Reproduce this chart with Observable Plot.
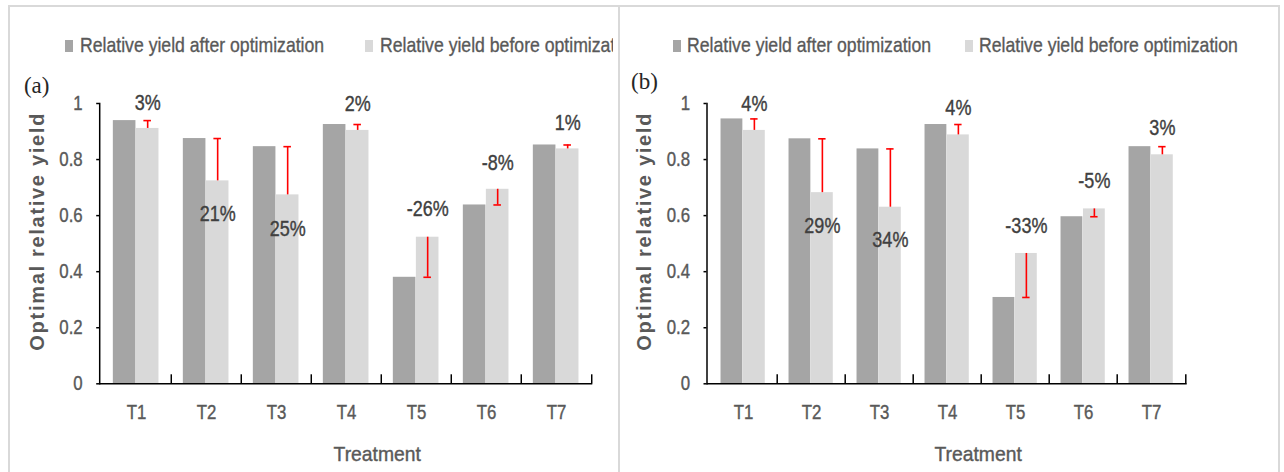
<!DOCTYPE html>
<html>
<head>
<meta charset="utf-8">
<script src="https://cdn.jsdelivr.net/npm/d3@7"></script>
<script src="https://cdn.jsdelivr.net/npm/@observablehq/plot@0.6"></script>
<style>
  html, body { margin: 0; padding: 0; background: #fff; }
  #wrap { position: relative; width: 1284px; height: 472px; overflow: hidden; background: #fff;
          font-family: "Liberation Sans", Arial, sans-serif; }
  .box { position: absolute; border-color: #d9d9d9; border-style: solid; box-sizing: border-box; }
  .abs { position: absolute; }
  .sw { position: absolute; width: 8px; height: 12px; }
  .lt { position: absolute; font-size: 21px; line-height: 21px; color: #595959; white-space: nowrap;
        -webkit-text-stroke: 0.35px #595959;
        transform: scaleX(0.84); transform-origin: left center; }
</style>
</head>
<body>
<div id="wrap">
  <div class="box" style="left:8px;top:5px;width:620px;height:480px;border-width:2px 0 0 2px;"></div>
  <div class="box" style="left:618px;top:5px;width:662px;height:480px;border-width:2px 2px 0 2px;"></div>
  <div id="legA" class="abs" style="left:0;top:0;width:613px;height:100px;overflow:hidden;"></div>
  <div id="legB" class="abs" style="left:0;top:0;width:1284px;height:100px;overflow:hidden;"></div>
  <div id="plotA" class="abs" style="left:0;top:0;"></div>
  <div id="plotB" class="abs" style="left:619px;top:0;"></div>
</div>
<script>
// ---------- data ----------
const treatments = ["T1", "T2", "T3", "T4", "T5", "T6", "T7"];
const seriesNames = ["Relative yield after optimization", "Relative yield before optimization"];
const seriesColors = ["#a5a5a5", "#d9d9d9"];
const yTicks = [0, 0.2, 0.4, 0.6, 0.8, 1];

// panel (a)
const afterA  = [0.939, 0.875, 0.846, 0.925, 0.380, 0.638, 0.852];
const beforeA = [0.911, 0.724, 0.674, 0.904, 0.523, 0.694, 0.838];
const pctA    = ["3%", "21%", "25%", "2%", "-26%", "-8%", "1%"];
const pctYA   = [1.004, 0.607, 0.554, 1.0, 0.625, 0.789, 0.932];

// panel (b)
const afterB  = [0.945, 0.874, 0.838, 0.925, 0.308, 0.596, 0.846];
const beforeB = [0.904, 0.682, 0.630, 0.888, 0.465, 0.624, 0.817];
const pctB    = ["4%", "29%", "34%", "4%", "-33%", "-5%", "3%"];
const pctYB   = [1.0, 0.564, 0.514, 0.986, 0.564, 0.725, 0.914];

const yTitle = "Optimal relative yield";
const xTitle = "Treatment";

// ---------- helpers ----------
function condense(svg, k) {
  svg.querySelectorAll("text").forEach(t => {
    const s = t.textContent;
    const fill = getComputedStyle(t).fill;
    if (s === yTitle) {
      t.setAttribute("textLength", 237);
      t.setAttribute("lengthAdjust", "spacing");
      return;
    }
    if (/^\([ab]\)$/.test(s)) return;
    let kk = k;
    if (s === xTitle) kk = 0.92;
    else if (/%$/.test(s)) kk = 0.8;
    const L = t.getComputedTextLength();
    t.setAttribute("textLength", (L * kk).toFixed(2));
    t.setAttribute("lengthAdjust", "spacingAndGlyphs");
    t.setAttribute("stroke", fill);
    t.setAttribute("stroke-width", 0.4);
  });
}

function panel(opts) {
  const {after, before, pct, pctY, tag, width, mLeft, mRight, tagDx, tagDy} = opts;
  const height = 472, mTop = 103, mBottom = 472 - 383.3;
  const plotW = width - mLeft - mRight, plotH = height - mTop - mBottom;
  const bw = plotW / treatments.length;
  const pad = 0.168 * bw, barW = 0.327 * bw;
  const dxL = pad + 1.5 * barW - bw / 2;
  const rows = treatments.map((t, i) => ({t, after: after[i], before: before[i], pct: pct[i], py: pctY[i]}));
  return Plot.plot({
    width, height,
    marginTop: mTop, marginBottom: mBottom, marginLeft: mLeft, marginRight: mRight,
    style: {fontFamily: '"Liberation Sans", Arial, sans-serif', fontSize: "20px", background: "transparent", overflow: "visible"},
    x: {type: "band", domain: treatments, padding: 0},
    y: {domain: [0, 1]},
    marks: [
      Plot.barY(rows, {x: "t", y: "after", fill: seriesColors[0], insetLeft: pad, insetRight: bw - pad - barW}),
      Plot.barY(rows, {x: "t", y: "before", fill: seriesColors[1], insetLeft: pad + barW, insetRight: bw - pad - 2 * barW}),
      Plot.ruleX(rows, {x: "t", y1: "before", y2: "after", dx: dxL, stroke: "#ff0000", strokeWidth: 1.6}),
      Plot.tickY(rows, {x: "t", y: "after", dx: dxL, stroke: "#ff0000", strokeWidth: 1.6,
                        insetLeft: bw / 2 - 4, insetRight: bw / 2 - 4}),
      Plot.text(rows, {x: "t", y: "py", text: "pct", dx: dxL, fontSize: 22.5, fill: "#404040"}),
      Plot.axisY({ticks: yTicks, tickSize: 3, tickPadding: 14, tickFormat: d => String(d), label: null,
                  stroke: "#000", fill: "#595959", fontSize: 20, strokeWidth: 1.5}),
      Plot.axisX({tickSize: 0, tickPadding: 21, label: null, fill: "#595959", fontSize: 20}),
      Plot.frame({anchor: "left", stroke: "#000", strokeWidth: 1.5}),
      Plot.ruleY([0], {stroke: "#000", strokeWidth: 1.5}),
      Plot.ruleX(treatments.slice(1), {dx: -bw / 2, insetTop: plotH - 9, stroke: "#000", strokeWidth: 1.5}),
      Plot.ruleX(treatments.slice(-1), {dx: bw / 2, insetTop: plotH - 9, stroke: "#000", strokeWidth: 1.5}),
      Plot.text([yTitle], {frameAnchor: "left", rotate: -90, dx: -62, dy: -11.5, fontWeight: "bold",
                           fontSize: 20, fill: "#595959", textAnchor: "middle", lineAnchor: "middle"}),
      Plot.text([xTitle], {frameAnchor: "bottom", dx: 31, dy: 70, fontSize: 21, fill: "#595959",
                           textAnchor: "middle", lineAnchor: "middle"}),
      Plot.text([tag], {frameAnchor: "top-left", dx: tagDx, dy: tagDy, fontSize: 23,
                        fontFamily: '"Liberation Serif", "Times New Roman", serif', fill: "#262626",
                        textAnchor: "middle", lineAnchor: "middle"})
    ]
  });
}

function legend(container, items) {
  items.forEach(({sx, tx, i}) => {
    const sw = document.createElement("div");
    sw.className = "sw";
    sw.style.left = sx + "px"; sw.style.top = "40px"; sw.style.background = seriesColors[i];
    container.appendChild(sw);
    const lt = document.createElement("div");
    lt.className = "lt";
    lt.style.left = tx + "px"; lt.style.top = "34px";
    lt.textContent = seriesNames[i];
    container.appendChild(lt);
  });
}

// ---------- build ----------
const svgA = panel({after: afterA, before: beforeA, pct: pctA, pctY: pctYA, tag: "(a)",
                    width: 613, mLeft: 99.2, mRight: 613 - 592.3, tagDx: -63, tagDy: -18});
document.getElementById("plotA").appendChild(svgA);
condense(svgA, 0.84);

const svgB = panel({after: afterB, before: beforeB, pct: pctB, pctY: pctYB, tag: "(b)",
                    width: 660, mLeft: 706.5 - 619, mRight: 619 + 660 - 1186.7, tagDx: -62.5, tagDy: -22});
document.getElementById("plotB").appendChild(svgB);
condense(svgB, 0.84);

legend(document.getElementById("legA"), [{sx: 65, tx: 80, i: 0}, {sx: 365, tx: 379.6, i: 1}]);
legend(document.getElementById("legB"), [{sx: 673, tx: 686.7, i: 0}, {sx: 965, tx: 979, i: 1}]);
</script>
</body>
</html>
